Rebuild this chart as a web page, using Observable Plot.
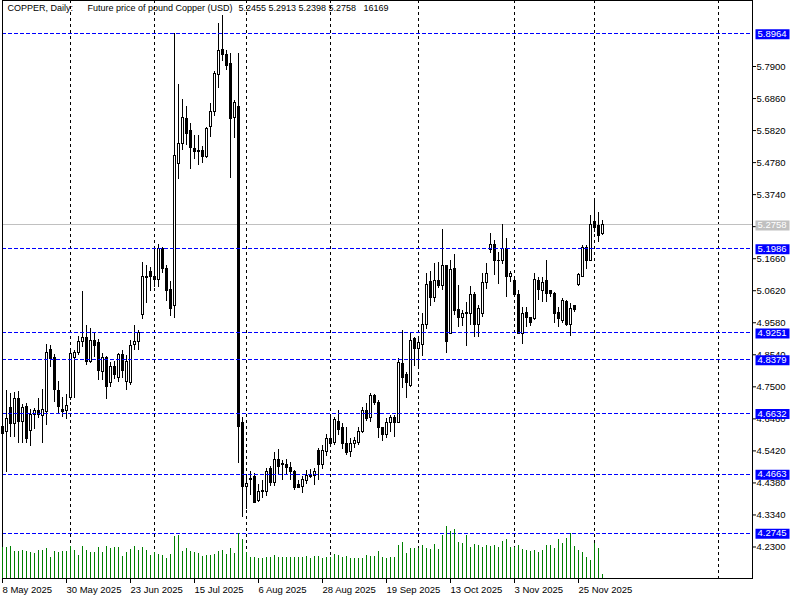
<!DOCTYPE html>
<html><head><meta charset="utf-8">
<script src="https://cdn.jsdelivr.net/npm/d3@7"></script>
<script src="https://cdn.jsdelivr.net/npm/@observablehq/plot@0.6"></script>
<style>
html,body{margin:0;padding:0;background:#fff;}
#chart{position:relative;width:800px;height:600px;overflow:hidden;}
#chart svg{position:absolute;left:0;top:0;}
</style>
</head><body><div id="chart"></div>
<script>
// ---- data (bar index 0 = 8 May 2025, daily bars) ----
const opens = [4.621,4.602,4.680,4.628,4.709,4.637,4.683,4.608,4.660,4.673,
4.654,4.667,4.871,4.845,4.738,4.676,4.670,4.715,4.842,4.861,
4.894,4.910,4.832,4.900,4.891,4.797,4.842,4.761,4.816,4.780,
4.852,4.767,4.764,4.887,4.894,4.982,5.108,5.124,5.108,5.098,
5.196,5.134,5.066,5.011,5.475,5.540,5.618,5.582,5.521,5.517,
5.517,5.495,5.592,5.641,5.761,5.845,5.826,5.797,5.624,5.660,
4.634,4.426,4.452,4.456,4.378,4.407,4.410,4.482,4.439,4.514,
4.498,4.495,4.485,4.475,4.430,4.426,4.443,4.456,4.462,4.543,
4.495,4.537,4.582,4.569,4.637,4.615,4.563,4.540,4.563,4.569,
4.602,4.670,4.650,4.719,4.699,4.615,4.595,4.631,4.650,4.634,
4.823,4.787,4.754,4.904,4.874,4.887,4.952,5.089,5.037,5.092,
5.076,5.141,4.923,5.131,5.001,4.972,4.985,4.988,5.047,4.952,
4.988,5.086,5.193,5.212,5.157,5.157,5.196,5.105,5.095,5.047,
4.923,4.991,4.972,4.969,5.095,5.060,5.092,5.060,5.053,4.991,
4.965,5.027,4.952,5.011,5.082,5.108,5.202,5.160,5.284,5.271,
5.2455];
const highs = [4.634,4.738,4.728,4.732,4.735,4.693,4.696,4.676,4.680,4.712,
4.741,4.887,4.884,4.855,4.767,4.715,4.725,4.868,4.868,4.913,
5.060,4.949,4.939,4.926,4.904,4.858,4.848,4.829,4.832,4.858,
4.868,4.852,4.900,4.949,4.933,5.154,5.144,5.137,5.196,5.212,
5.202,5.144,5.092,5.897,5.732,5.683,5.660,5.605,5.566,5.566,
5.530,5.592,5.670,5.774,5.930,5.956,5.842,5.832,5.680,5.832,
4.650,4.456,4.475,4.469,4.433,4.446,4.485,4.491,4.537,4.547,
4.511,4.514,4.504,4.478,4.446,4.459,4.478,4.482,4.485,4.550,
4.560,4.595,4.650,4.650,4.673,4.631,4.618,4.582,4.586,4.618,
4.683,4.696,4.728,4.725,4.706,4.618,4.647,4.657,4.657,4.842,
4.933,4.797,4.923,4.910,4.913,4.988,5.118,5.124,5.150,5.154,
5.261,5.144,5.160,5.180,5.079,4.998,5.024,5.076,5.056,5.014,
5.118,5.150,5.248,5.225,5.186,5.277,5.232,5.124,5.105,5.063,
5.008,5.008,4.975,5.118,5.105,5.105,5.160,5.063,5.056,5.008,
5.037,5.030,5.021,5.014,5.118,5.209,5.209,5.306,5.355,5.316,
5.2913];
const lows = [4.589,4.472,4.586,4.586,4.566,4.566,4.566,4.556,4.611,4.647,
4.566,4.624,4.813,4.699,4.663,4.650,4.644,4.706,4.712,4.852,
4.878,4.819,4.826,4.845,4.771,4.771,4.709,4.748,4.774,4.764,
4.777,4.738,4.754,4.868,4.868,4.969,5.021,5.060,5.072,5.072,
5.118,5.027,4.978,4.972,5.423,5.517,5.534,5.456,5.488,5.469,
5.475,5.491,5.560,5.628,5.719,5.806,5.777,5.426,5.556,4.501,
4.326,4.352,4.397,4.371,4.374,4.387,4.394,4.426,4.426,4.465,
4.446,4.462,4.446,4.413,4.420,4.404,4.433,4.452,4.430,4.446,
4.482,4.524,4.563,4.560,4.592,4.547,4.527,4.521,4.550,4.560,
4.598,4.637,4.634,4.689,4.582,4.573,4.582,4.602,4.586,4.631,
4.745,4.712,4.748,4.816,4.813,4.848,4.936,5.011,5.024,5.069,
5.063,4.858,4.920,4.982,4.943,4.946,4.881,4.949,4.910,4.910,
4.975,5.066,5.183,5.112,5.082,5.147,5.040,5.089,5.040,4.920,
4.887,4.943,4.946,4.965,5.030,5.024,5.024,5.040,4.956,4.943,
4.956,4.946,4.913,4.991,5.076,5.105,5.131,5.157,5.251,5.219,
5.2398];
const closes = [4.598,4.647,4.628,4.709,4.637,4.680,4.582,4.660,4.670,4.657,
4.676,4.861,4.839,4.741,4.683,4.667,4.689,4.855,4.861,4.897,
4.910,4.829,4.900,4.884,4.803,4.842,4.748,4.813,4.790,4.852,
4.800,4.832,4.884,4.897,4.926,5.105,5.102,5.105,5.098,5.196,
5.134,5.060,5.004,5.501,5.540,5.624,5.572,5.524,5.514,5.514,
5.495,5.586,5.641,5.767,5.839,5.826,5.793,5.621,5.670,4.621,
4.426,4.436,4.446,4.374,4.410,4.413,4.472,4.439,4.514,4.491,
4.495,4.488,4.472,4.423,4.423,4.446,4.462,4.459,4.472,4.495,
4.543,4.579,4.566,4.641,4.611,4.563,4.534,4.566,4.573,4.602,
4.670,4.647,4.719,4.696,4.615,4.595,4.631,4.650,4.634,4.826,
4.780,4.764,4.900,4.874,4.891,4.952,5.082,5.037,5.092,5.076,
5.141,4.897,5.128,4.995,4.972,4.985,4.991,5.047,4.952,5.004,
5.086,5.115,5.212,5.157,5.160,5.196,5.105,5.115,5.047,4.923,
4.988,4.975,4.956,5.098,5.063,5.086,5.053,5.053,4.988,4.969,
5.030,4.952,5.004,5.001,5.112,5.202,5.160,5.274,5.267,5.241,
5.2758];
// tick volume, thousands
const volumes = [143,143,148,125,123,127,123,122,115,127,
127,137,99,125,120,125,125,148,128,106,
148,128,120,122,145,122,148,140,142,141,
103,122,135,148,129,141,127,104,122,111,
106,93,111,194,199,125,138,126,122,116,
103,106,106,111,126,129,109,138,115,208,
178,122,99,98,94,94,95,97,106,99,
98,99,99,99,99,99,100,93,100,103,
93,95,95,109,106,98,100,93,93,93,
93,106,103,103,123,99,93,99,99,151,
167,114,138,138,140,151,138,132,156,135,
199,241,215,225,164,162,199,145,157,151,
145,152,149,154,145,170,178,145,141,151,
135,129,125,127,122,127,153,154,138,181,
162,186,208,149,129,122,97,81,162,138,
16.169];
const xTickIdx = [0,16,32,48,64,80,96,112,128,144];
const xTickLabels = ["8 May 2025","30 May 2025","23 Jun 2025","15 Jul 2025","6 Aug 2025","28 Aug 2025","19 Sep 2025","13 Oct 2025","3 Nov 2025","25 Nov 2025"];
const monthStartIdx = [17,38,61,82,104,128,148,179];
const yTicks = [4.2300,4.3340,4.4380,4.5420,4.6460,4.7500,4.8540,4.9580,5.0620,5.1660,5.2700,5.3740,5.4780,5.5820,5.6860,5.7900];
const levels = [5.8964,5.1986,4.9251,4.8379,4.6632,4.4663,4.2745];
const lastPrice = [5.2758];
const titleParts = ["COPPER, Daily:", "Future price of pound Copper (USD)", "5.2455 5.2913 5.2398 5.2758", "16169"];

// ---- build ----
const bars = opens.map((o, i) => ({i, o, h: highs[i], l: lows[i], c: closes[i]}));
const bull = bars.filter(d => d.c >= d.o);
const bear = bars.filter(d => d.c < d.o);
const vol = volumes.map((v, i) => ({i, v}));

const FONT = "'Liberation Sans', Arial, sans-serif";
const W = 800, H = 600;
const common = {width: W, height: H, marginTop: 0, marginBottom: 22, marginLeft: 2, marginRight: 48};
const xScale = {domain: [0, 187.5], axis: null, label: null};
const boxSymbol = {draw(ctx) { ctx.rect(-17, -4.5, 34, 10); }};
const titleDx = [5, 85, 236, 361];

const price = Plot.plot({
  ...common,
  x: xScale,
  y: {domain: [4.1277, 6.0043], axis: null, label: null},
  style: {fontFamily: FONT, fontSize: "9.5px", background: "white", color: "black"},
  marks: [
    Plot.ruleX(monthStartIdx, {x: d => d, stroke: "black", strokeDasharray: "3,3", shapeRendering: "crispEdges"}),
    Plot.ruleY(lastPrice, {y: d => d, stroke: "#c0c0c0", shapeRendering: "crispEdges"}),
    Plot.ruleX(bars, {x: "i", y1: "l", y2: "h", stroke: "black", shapeRendering: "crispEdges"}),
    Plot.rect(bear, {x1: d => d.i - 0.25, x2: d => d.i + 0.25, y1: "o", y2: "c", fill: "black", stroke: "black", shapeRendering: "crispEdges"}),
    Plot.rect(bull, {x1: d => d.i - 0.25, x2: d => d.i + 0.25, y1: "o", y2: "c", fill: "white", stroke: "black", shapeRendering: "crispEdges"}),
    Plot.ruleY(levels, {y: d => d, stroke: "#0000ff", strokeDasharray: "4,2", shapeRendering: "crispEdges"}),
    Plot.frame({stroke: "black", shapeRendering: "crispEdges"}),
    Plot.axisY({ticks: yTicks, anchor: "right", tickSize: 3, tickPadding: 1, tickFormat: d => d.toFixed(4), label: null, fill: "black", stroke: "black"}),
    Plot.axisX({ticks: xTickIdx, anchor: "bottom", tickSize: 5, tickPadding: 3, textAnchor: "start", tickFormat: d => xTickLabels[xTickIdx.indexOf(d)], label: null, fill: "black", stroke: "black"}),
    Plot.dot(lastPrice, {y: d => d, frameAnchor: "right", dx: 20, symbol: boxSymbol, fill: "#c0c0c0"}),
    Plot.text(lastPrice, {y: d => d, frameAnchor: "right", dx: 5, textAnchor: "start", text: d => d.toFixed(4), fill: "white"}),
    Plot.dot(levels, {y: d => d, frameAnchor: "right", dx: 20, symbol: boxSymbol, fill: "#0000ff"}),
    Plot.text(levels, {y: d => d, frameAnchor: "right", dx: 5, textAnchor: "start", text: d => d.toFixed(4), fill: "white"}),
    ...titleParts.map((t, k) => Plot.text([t], {frameAnchor: "top-left", dx: titleDx[k], dy: 4, text: d => d, textAnchor: "start", lineAnchor: "top", fontSize: 9, fill: "black"}))
  ]
});

const volPlot = Plot.plot({
  ...common,
  marginTop: 513,
  x: xScale,
  y: {domain: [0, 300], axis: null, label: null},
  style: {background: "transparent"},
  marks: [
    Plot.ruleX(vol, {x: "i", y1: 0, y2: "v", stroke: "#008000", shapeRendering: "crispEdges"})
  ]
});

const root = document.getElementById("chart");
root.appendChild(price);
volPlot.style.pointerEvents = "none";
root.appendChild(volPlot);
</script></body></html>
